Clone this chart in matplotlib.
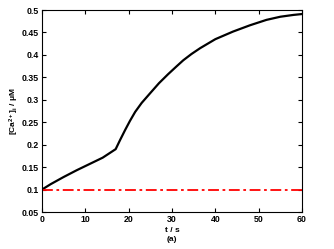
import matplotlib
matplotlib.use("Agg")
import matplotlib.pyplot as plt

t = [0, 2, 5, 8, 11, 14, 17, 18, 19.2, 20.3, 21.5, 23, 24.9, 27, 29.1, 31, 32.6, 34.5, 36.5, 40, 44.1, 48, 51.8, 55, 58, 60]
ca = [0.100, 0.112, 0.128, 0.143, 0.157, 0.171, 0.190, 0.210, 0.233, 0.253, 0.273, 0.293, 0.314, 0.337, 0.357, 0.374, 0.388, 0.402, 0.415, 0.435, 0.452, 0.466, 0.478, 0.485, 0.489, 0.491]
baseline_t = [0, 60]
baseline = [0.1, 0.1]
xticks = [0, 10, 20, 30, 40, 50, 60]
yticks = [0.05, 0.1, 0.15, 0.2, 0.25, 0.3, 0.35, 0.4, 0.45, 0.5]
yticklabels = ["0.05", "0.1", "0.15", "0.2", "0.25", "0.3", "0.35", "0.4", "0.45", "0.5"]

plt.rcParams['font.family'] = ['Liberation Sans', 'DejaVu Sans']
plt.rcParams['mathtext.fontset'] = 'custom'
plt.rcParams['mathtext.rm'] = 'Liberation Sans:bold'
plt.rcParams['mathtext.it'] = 'Liberation Sans:bold'
plt.rcParams['mathtext.bf'] = 'Liberation Sans:bold'

fig = plt.figure(figsize=(3.34, 2.49), dpi=100)
ax = fig.add_axes([42/334, 37/249, 260/334, 202/249])
ax.plot(t, ca, color='black', lw=1.6)
ax.plot(baseline_t, baseline, color='red', lw=1.3, linestyle=(0, (6, 2, 1.5, 2)))
ax.set_xlim(0, 60)
ax.set_ylim(0.05, 0.5)
ax.set_xticks(xticks)
ax.set_yticks(yticks)
ax.set_yticklabels(yticklabels)
ax.tick_params(direction='in', top=True, right=True, length=3, width=0.8, labelsize=6.3, pad=2)
for lab in ax.get_xticklabels() + ax.get_yticklabels():
    lab.set_fontweight('bold')
for s in ax.spines.values():
    s.set_linewidth(0.8)
ax.set_xlabel("t / s\n(a)", fontsize=6, fontweight='bold', labelpad=2, linespacing=1.5)
ax.set_ylabel("[Ca$^{2+}$]$_i$ / μM", fontsize=6, fontweight='bold', labelpad=1)
fig.savefig("out.png", dpi=100)
